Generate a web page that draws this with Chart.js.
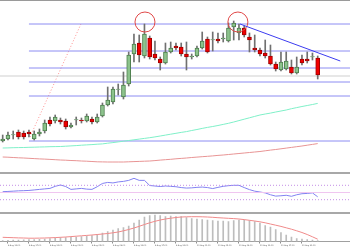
<!DOCTYPE html>
<html><head><meta charset="utf-8">
<script src="https://cdn.jsdelivr.net/npm/chart.js@4.4.0/dist/chart.umd.min.js"></script>
<style>
html,body{margin:0;padding:0;background:#fff;width:350px;height:250px;overflow:hidden;position:relative}
canvas{position:absolute;left:0}
.sep{position:absolute;left:0;width:350px;background:#a8a8a8}
</style></head><body>
<div class="sep" style="top:0;height:1px;background:#9a9a9a"></div>
<canvas id="main" width="350" height="171" style="top:1px;width:350px;height:171px"></canvas>
<div class="sep" style="top:172px;height:2px"></div>
<canvas id="rsi" width="350" height="38" style="top:174px;width:350px;height:38px"></canvas>
<div class="sep" style="top:212px;height:2px"></div>
<canvas id="macd" width="350" height="36" style="top:214px;width:350px;height:36px"></canvas>
<script>
// ---- data (price units, hourly candles) ----
const openP  = [59,61,65,68,67,68,61,66,69,80,79,80,79,73,80,80,79,81,78,84,95,98,110.5,103,116,146,157,144,162,146,141,137,148,154,153,146,143,144,152,161,160,161,161,159,173,167,172,163,152,150,147,144,136,130,131,133,127,141,141,143,142];
const closeP = [61,65,65.5,63,63,66,66,68,77,76,83,78,73,75,80.5,79,84,78,83,95,100,111,111,115,145,156,145,166,143,142,137,148,152,152,146,143,144,152,159,148,160.5,159,162,172,177,172,165,160,150,146,144,136,131,138,139,127,133,137,139,143.5,125];
const highP  = [65,68,69,70,69,70,69,71,80,83,85,82,81,77,83,82,86,83,86,97,113,113,116,128,148,166,165,176,164,159,143,157,158,157,157,158,146,154,168,163,168,167,167,177,179,176,174,167,165,152,160,155,138,148,148,140,143,145,148,147,144];
const lowP   = [58,60,61,61,61,63,60,64,67,74,77,76,71,72,75,77,78,76,77,83,94,96,105,101,114,138,138,142,141,140,130,136,147,150,144,130,141,143,151,147,149,157,158,158,160,160,163,148,148,144,142,135,129,129,130,126,126,135,137,140,121];
const maFast = [52.0,52.1,52.3,52.4,52.5,52.7,52.8,53.0,53.1,53.3,53.4,53.5,53.8,54.1,54.4,54.8,55.1,55.4,55.8,56.1,56.8,57.4,58.1,58.8,59.5,60.2,60.9,61.6,62.3,63.1,64.0,64.9,65.8,66.7,67.6,68.4,69.5,70.5,71.6,72.6,73.5,74.5,75.6,76.7,78.0,79.4,80.8,82.2,83.6,85.0,86.0,86.9,88.0,89.0,90.0,91.3,92.4,93.5,94.5,95.5,96.6];
const maSlow = [43.0,42.8,42.5,42.2,42.0,41.7,41.4,41.1,40.9,40.6,40.3,40.0,39.8,39.5,39.3,39.0,38.8,38.5,38.2,38.1,38.0,38.0,38.0,38.0,38.2,38.4,38.6,38.8,39.0,39.4,39.9,40.3,40.7,41.2,41.6,42.0,42.5,42.9,43.3,43.7,44.1,44.6,45.0,45.5,46.0,46.5,47.0,47.5,48.0,48.5,49.2,49.9,50.5,51.2,51.9,52.6,53.3,54.0,54.8,55.6,56.4];
const levels = [176,149,132,118,104,59];
const levelStart = 5;
const priceLine = 124;
const impulseX = [5.2,14.9], impulseY = [63,176];
const trendX = [45.2,64.3], trendY = [176,139];
const circleX = [27.1,44.8], circleY = [178,178];
const rsiVals = [52.3,52.9,53.7,54.6,55.1,55.7,57.1,58.6,60,61.4,67.1,70.9,66.6,58.6,60,61.4,59.4,58.6,66,75.1,78,76.6,79.4,80.9,83.7,89.4,83.7,83.7,69.4,68,66.6,68,67.1,66,63.7,62.3,62.9,64.3,65.1,63.7,60.9,64.3,67.1,68.9,70,70,63.7,58,53.7,51.4,48.9,43.7,40,40.9,42.3,39.4,43.7,46.6,47.4,48.9,38];
const rsiLevels = [70,50,30];
const macdHist = [1,1.2,1.5,1.5,1.7,1.8,2,2.2,2.5,3,3.5,4,4,4.2,4.5,5,5.5,6,7,8.5,10,11.5,13,14,15.5,18.5,21.5,24.5,26,26.5,26,25,25.5,25,25,24,23,22.5,22,21.5,21,20.5,20.5,20,21,21.5,21.5,21,20,18.5,16,14.5,12,9,6.5,4.5,3,2.3,2,1.5,1];
const macdSignal = [4.2,4,3.8,3.6,3.5,3.3,3.3,3.4,3.5,3.7,3.9,4.2,4.5,4.9,5.3,5.7,6.1,6.5,7,7.5,8,8.7,9.5,10.7,12,13.5,15.2,17,18.7,20.2,21.5,22.5,23.3,24,24.5,24.7,24.8,24.8,24.7,24.5,24.2,23.8,23.5,23.2,22.9,22.5,21.9,21.2,20.5,19.7,18.7,17.5,16.3,15.1,13.7,12.3,10.7,9,7,4.7,2.3];
const tickIdx = [1,5,9,13,17,21,25,29,33,37,41,45,49,53,57];
const tickText = ['8 Aug 13:00','8 Aug 17:00','8 Aug 21:00','9 Aug 01:00','9 Aug 05:00','9 Aug 09:00','9 Aug 13:00','9 Aug 17:00','9 Aug 21:00','10 Aug 01:00','10 Aug 05:00','10 Aug 09:00','10 Aug 13:00','10 Aug 17:00','10 Aug 21:00'];

// ---- layout helpers ----
const X_MIN = -0.514, X_MAX = 66.15;
const GREEN = '#8cc38c', GREEN_B = '#4f7f4f', RED = '#f00000', RED_B = '#a00000';
const base = {responsive:false, maintainAspectRatio:false, animation:false, events:[],
  layout:{padding:0, autoPadding:false}, plugins:{legend:{display:false}, tooltip:{enabled:false}}};
function xHidden(){ return {type:'linear', min:X_MIN, max:X_MAX, display:false, offset:false, grid:{offset:false}}; }
function seg(xArr, yArr){ return xArr.map((x,i)=>({x, y:yArr[i]})); }
function lineDs(data, color, extra){ return Object.assign({type:'line', data, borderColor:color, borderWidth:1, pointRadius:0, fill:false, tension:0, clip:false}, extra||{}); }

const idx = openP.map((_,i)=>i);
const up = idx.map(i=>closeP[i]>=openP[i]);

const mainDs = [];
mainDs.push(lineDs([{x:X_MIN,y:priceLine},{x:X_MAX,y:priceLine}], '#cfcfcf', {order:5}));
levels.forEach(L=>mainDs.push(lineDs([{x:levelStart,y:L},{x:X_MAX,y:L}], '#8c8cf2', {order:5})));
mainDs.push(lineDs(seg(impulseX, impulseY), '#ff9090', {borderDash:[1,2], order:5}));
mainDs.push(lineDs(idx.map(i=>({x:i,y:maFast[i]})), '#7ff0c8', {order:4}));
mainDs.push(lineDs(idx.map(i=>({x:i,y:maSlow[i]})), '#e89494', {order:4}));
mainDs.push({type:'bar', grouped:false, order:2, barThickness:1,
  data: idx.map(i=>({x:i, y:[lowP[i], highP[i]]})), backgroundColor:'#707070'});
mainDs.push({type:'bar', grouped:false, order:1, barThickness:4, borderWidth:1, borderSkipped:false,
  data: idx.map(i=>({x:i, y:[Math.min(openP[i],closeP[i]), Math.max(openP[i],closeP[i])+ (openP[i]===closeP[i]?0.5:0)]})),
  backgroundColor: idx.map(i=>up[i]?GREEN:RED), borderColor: idx.map(i=>up[i]?GREEN_B:RED_B)});
mainDs.push(lineDs(seg(trendX, trendY), '#3c3cf0', {order:0}));
mainDs.push(lineDs(seg(circleX, circleY), 'transparent', {order:0, showLine:false, pointRadius:10,
  pointBackgroundColor:'rgba(0,0,0,0)', pointBorderColor:'#e04848', pointBorderWidth:1}));

new Chart(document.getElementById('main'), {type:'bar', data:{datasets:mainDs},
  options:Object.assign({}, base, {scales:{x:xHidden(), y:{type:'linear', min:28, max:199, display:false}}})});

const rsiDs = [];
rsiLevels.forEach((L,k)=>rsiDs.push(lineDs([{x:X_MIN,y:L},{x:X_MAX,y:L}], k===1?'#f0c6f0':'#c48ee6', {borderDash:k===1?[]:[1,2]})));
rsiDs.push(lineDs(idx.map(i=>({x:i,y:rsiVals[i]})), '#8282f2'));
new Chart(document.getElementById('rsi'), {type:'line', data:{datasets:rsiDs},
  options:Object.assign({}, base, {scales:{x:xHidden(), y:{type:'linear', min:-4.2, max:101.4, display:false}}})});

new Chart(document.getElementById('macd'), {type:'bar', data:{datasets:[
  lineDs(idx.map(i=>({x:i,y:macdSignal[i]})), '#f08a8a', {order:0}),
  {type:'bar', order:1, grouped:false, barThickness:1, backgroundColor:'#bdbdbd', data: idx.map(i=>({x:i,y:macdHist[i]}))}
]}, options:Object.assign({}, base, {scales:{
  x:{type:'linear', min:X_MIN, max:X_MAX, position:'bottom', offset:false,
     grid:{display:true, offset:false, drawOnChartArea:false, drawTicks:true, tickLength:2, color:'#909090'},
     border:{display:true, color:'#a0a0a0'},
     afterBuildTicks: s=>{ s.ticks = tickIdx.map(v=>({value:v})); },
     afterFit: s=>{ s.height = 8.5; },
     ticks:{autoSkip:false, maxRotation:0, minRotation:0, align:'start', padding:1, color:'#555',
       font:{size:2, family:'DejaVu Sans'}, callback:(v)=>{ const k=tickIdx.indexOf(v); return k>=0?tickText[k]:''; }}},
  y:{type:'linear', min:0, max:27.5, display:false}}})});
</script>
</body></html>
